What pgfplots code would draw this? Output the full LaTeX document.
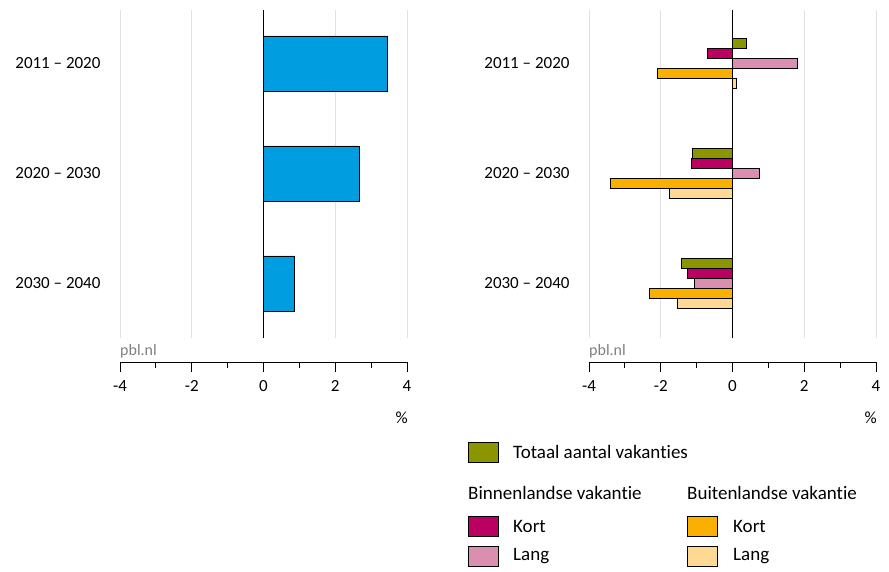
\documentclass[border=0pt]{standalone}
\usepackage{fontspec}
\setmainfont{Carlito}[Ligatures={TeX,NoCommon}]
\usepackage{pgfplots}
\pgfplotsset{compat=1.18}
\definecolor{cblue}{RGB}{0,158,224}
\definecolor{colive}{RGB}{139,149,0}
\definecolor{cmag}{RGB}{186,0,96}
\definecolor{cpink}{RGB}{218,143,177}
\definecolor{corange}{RGB}{249,176,0}
\definecolor{clight}{RGB}{255,216,148}
\definecolor{cgrid}{RGB}{225,225,225}
\pgfplotsset{panel/.style={
  scale only axis, width=287pt, height=352pt,
  xmin=-4, xmax=4, ymin=-0.714, ymax=2.486,
  axis x line*=bottom, axis y line*=left,
  y axis line style={draw=none}, ytick style={draw=none},
  x axis line style={black, line width=0.8pt, -},
  xtick={-4,-2,0,2,4}, xticklabels={-4,-2,0,2,4},
  minor xtick={-3,-1,1,3},
  tick align=outside, major tick length=10pt, minor tick length=6pt,
  xtick style={black, line width=0.8pt},
  minor tick style={black, line width=0.8pt},
  ytick={0,1,2}, yticklabels={2030 -- 2040, 2020 -- 2030, 2011 -- 2020},
  ticklabel style={font=\fontsize{17}{19}\selectfont},
  yticklabel style={xshift=-6pt},
  xticklabel style={yshift=-5pt},
  clip=false,
},
bars/.style={xbar, bar shift=0pt, draw=black, line width=0.7pt, forget plot}}
\begin{document}
\begin{tikzpicture}[x=1pt,y=1pt]
\path (0,0) rectangle (889,-571);
% left panel
\begin{axis}[panel, at={(120pt,-362pt)}, anchor=south west]
\pgfplotsinvokeforeach{-4,-2,2,4}{\addplot[cgrid, line width=1pt, forget plot] coordinates {(#1,-0.495) (#1,2.486)};}
\addplot[bars, bar width=55pt, fill=cblue] coordinates {(3.46,2) (2.67,1) (0.87,0)};
\addplot[black, line width=0.8pt, forget plot] coordinates {(0,-0.495) (0,2.486)};
\end{axis}
\node[anchor=base west, text=gray, font=\fontsize{16}{18}\selectfont, inner sep=0pt] at (120,-355) {pbl.nl};
\node[anchor=east, font=\fontsize{17}{19}\selectfont, inner sep=0pt] at (408,-418) {\%};
% right panel
\begin{axis}[panel, at={(589pt,-362pt)}, anchor=south west]
\pgfplotsinvokeforeach{-4,-2,2,4}{\addplot[cgrid, line width=1pt, forget plot] coordinates {(#1,-0.495) (#1,2.486)};}
\addplot[bars, bar width=10pt, fill=colive] coordinates {(0.38,2.182) (-1.11,1.182) (-1.42,0.182)};
\addplot[bars, bar width=10pt, fill=cmag] coordinates {(-0.71,2.091) (-1.14,1.091) (-1.26,0.091)};
\addplot[bars, bar width=10pt, fill=cpink] coordinates {(1.80,2) (0.74,1) (-1.07,0)};
\addplot[bars, bar width=10pt, fill=corange] coordinates {(-2.10,1.909) (-3.41,0.909) (-2.32,-0.091)};
\addplot[bars, bar width=10pt, fill=clight] coordinates {(0.11,1.818) (-1.77,0.818) (-1.55,-0.182)};
\addplot[black, line width=0.8pt, forget plot] coordinates {(0,-0.495) (0,2.486)};
\end{axis}
\node[anchor=base west, text=gray, font=\fontsize{16}{18}\selectfont, inner sep=0pt] at (589,-355) {pbl.nl};
\node[anchor=east, font=\fontsize{17}{19}\selectfont, inner sep=0pt] at (877,-418) {\%};
% legend
\begin{scope}[every node/.style={anchor=west, inner sep=0pt, font=\fontsize{19}{21}\selectfont}]
\filldraw[fill=colive, draw=black, line width=0.7pt] (468,-442) rectangle (498,-462);
\node at (513,-452) {Totaal aantal vakanties};
\node at (468,-493) {Binnenlandse vakantie};
\node at (687,-493) {Buitenlandse vakantie};
\filldraw[fill=cmag, draw=black, line width=0.7pt] (468,-516) rectangle (498,-536);
\node at (513,-526) {Kort};
\filldraw[fill=cpink, draw=black, line width=0.7pt] (468,-546) rectangle (498,-566);
\node at (513,-556) {Lang};
\filldraw[fill=corange, draw=black, line width=0.7pt] (687,-516) rectangle (717,-536);
\node at (733,-526) {Kort};
\filldraw[fill=clight, draw=black, line width=0.7pt] (687,-546) rectangle (717,-566);
\node at (733,-556) {Lang};
\end{scope}
\end{tikzpicture}
\end{document}
